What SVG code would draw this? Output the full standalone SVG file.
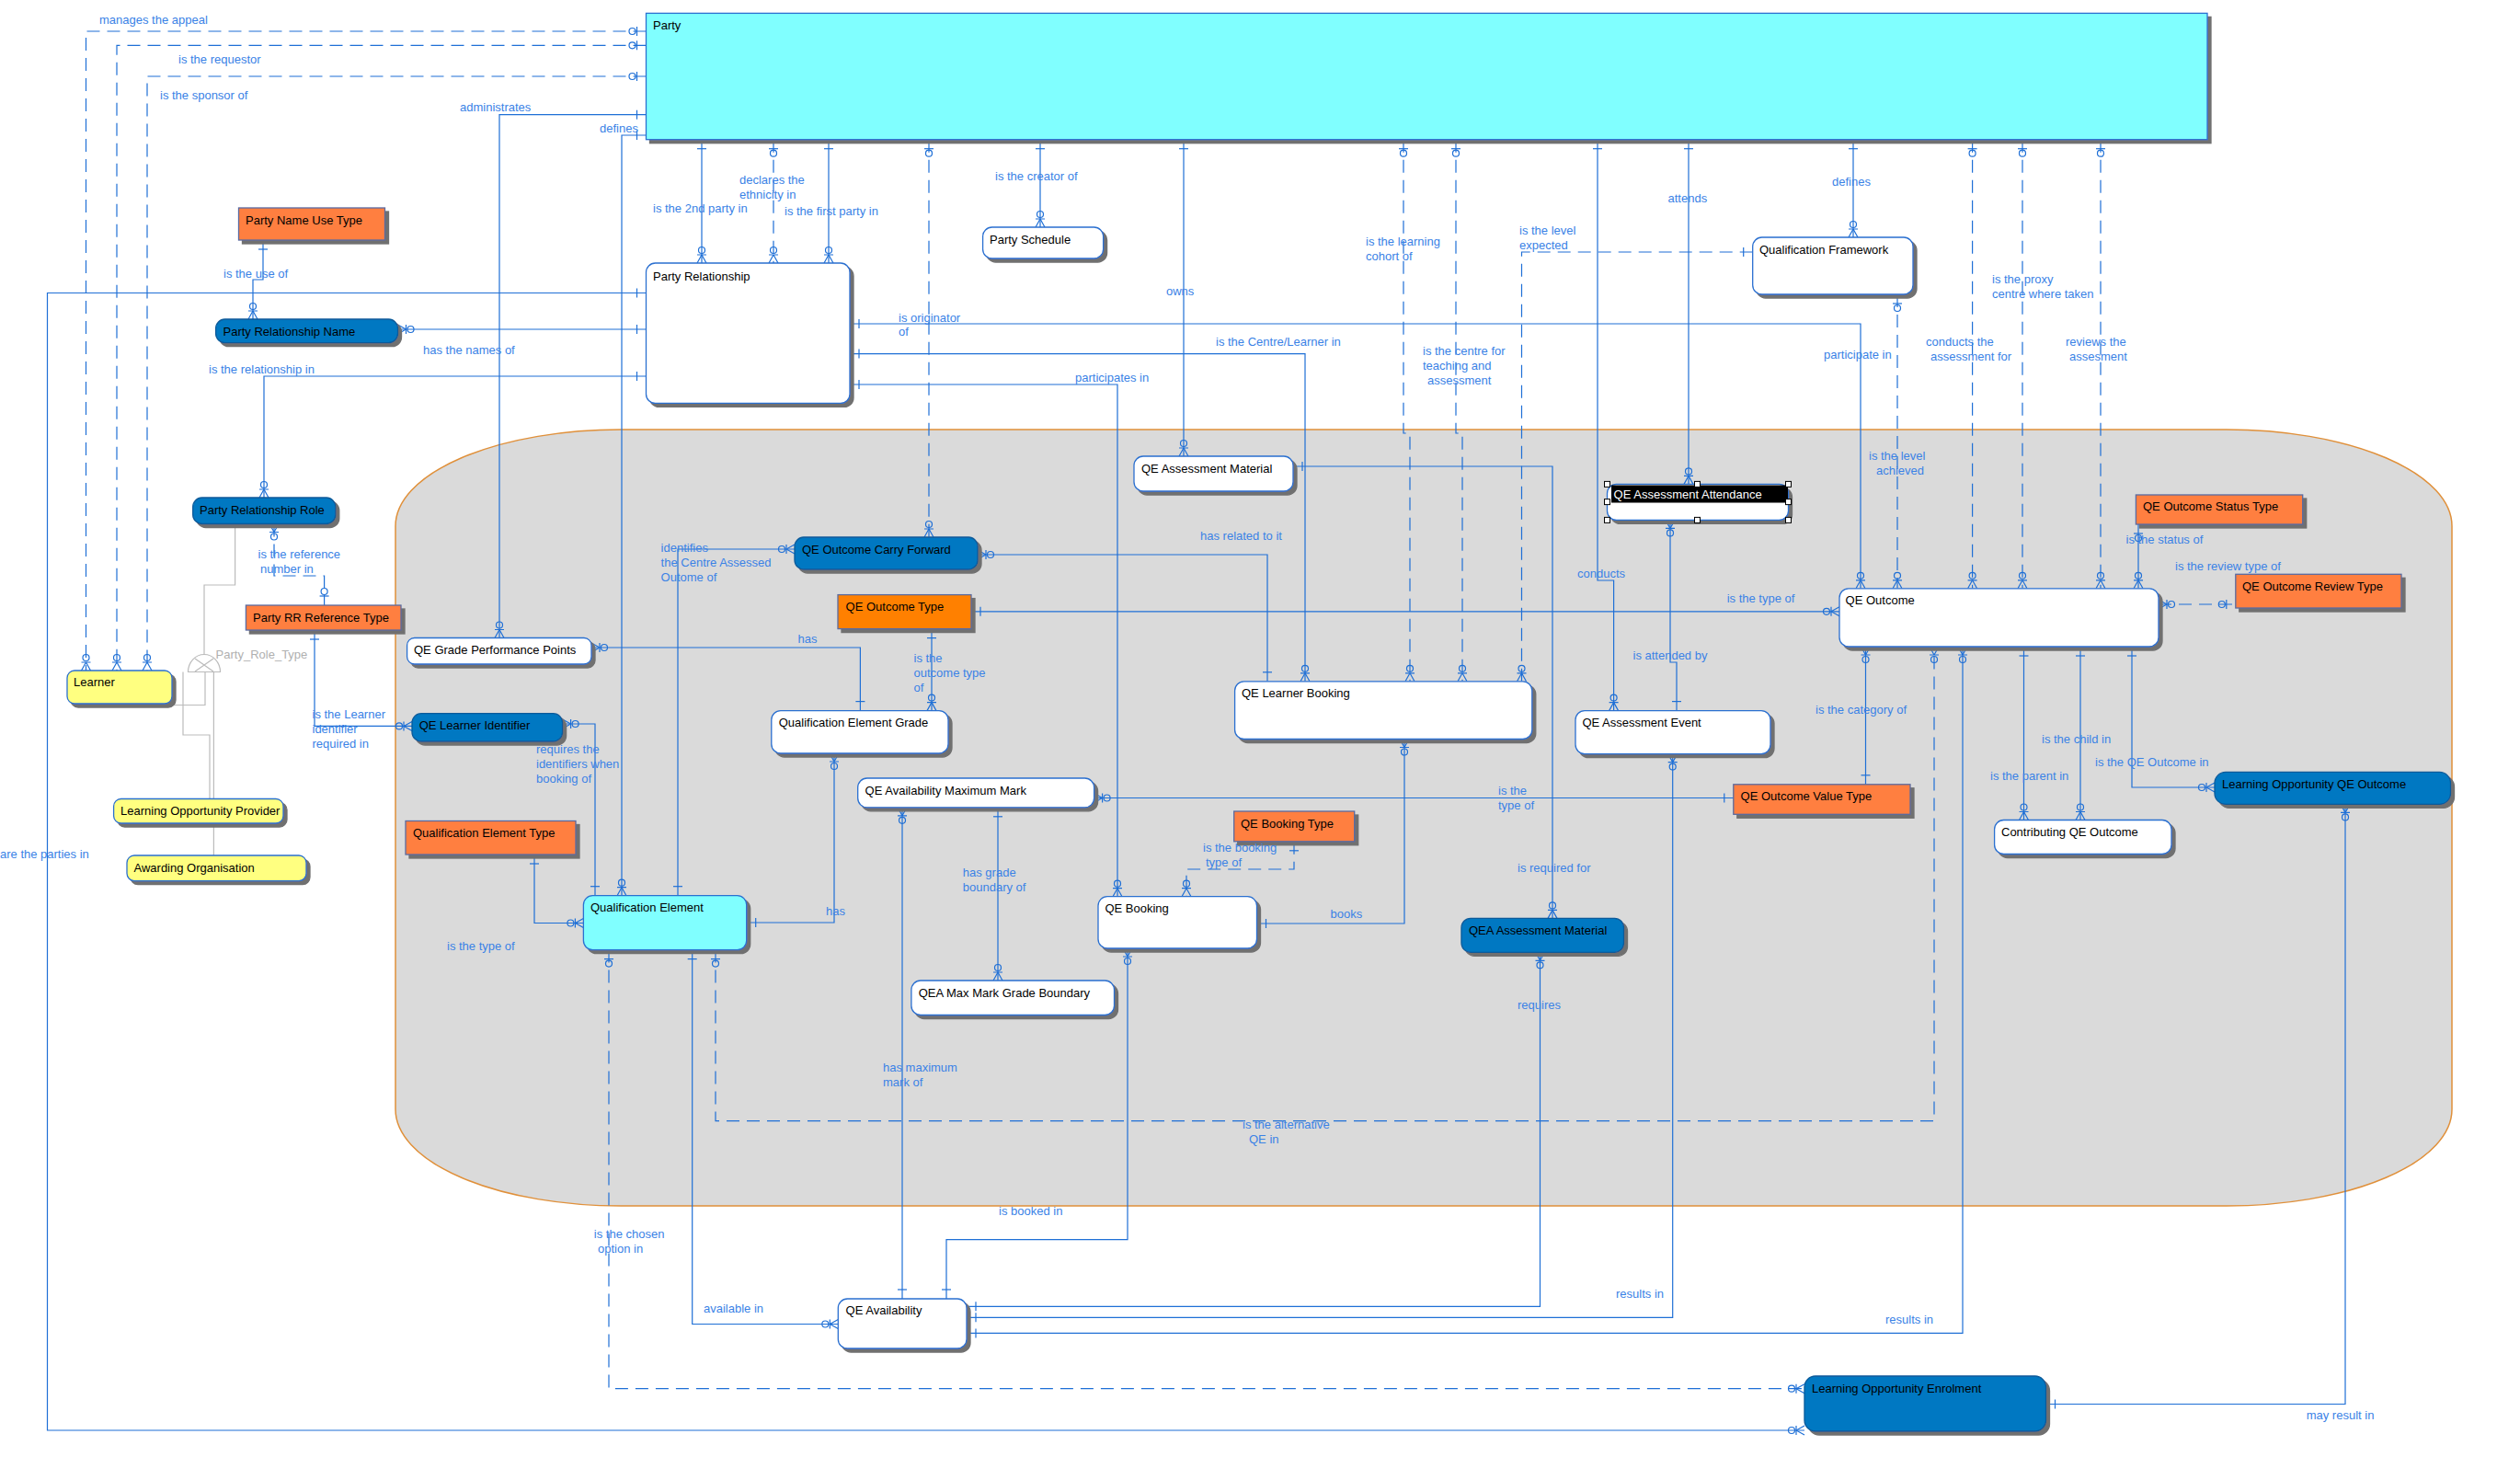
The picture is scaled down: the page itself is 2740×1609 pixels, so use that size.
<svg xmlns="http://www.w3.org/2000/svg" xmlns:xlink="http://www.w3.org/1999/xlink" width="2740" height="1609" viewBox="0 0 2740 1609">
<style>
  .ent { stroke: #2a6fd0; stroke-width: 1.3; filter: url(#sh); }
  .w { fill: #ffffff; }
  .cy { fill: #80ffff; }
  .yl { fill: #ffff80; }
  .db { fill: #0078c2; stroke: #0a5a9a; }
  .or { fill: #ff7f40; stroke: #5a6aa0; }
  .or2 { fill: #ff8000; stroke: #5a6aa0; }
  .t { font-family: "Liberation Sans", Arial, sans-serif; font-size: 13px; fill: #000000; }
  .lb { font-family: "Liberation Sans", Arial, sans-serif; font-size: 13px; fill: #3a82e6; }
  .ln { fill: none; stroke: #1e6fd6; stroke-width: 1.2; }
  .dl { fill: none; stroke: #1e6fd6; stroke-width: 1.2; stroke-dasharray: 14 8; }
  .mk { fill: none; stroke: #1e6fd6; stroke-width: 1.2; }
  .sub { fill: none; stroke: #bbbbbb; stroke-width: 1.2; }
  .hd { fill: #ffffff; stroke: #000000; stroke-width: 1; }
</style>
<defs>
  <filter id="sh" x="-5%" y="-10%" width="115%" height="140%">
    <feOffset in="SourceAlpha" dx="4" dy="4" result="off"/>
    <feFlood flood-color="#707070"/>
    <feComposite in2="off" operator="in" result="shadow"/>
    <feMerge><feMergeNode in="shadow"/><feMergeNode in="SourceGraphic"/></feMerge>
  </filter>
  <!-- crow's foot end symbols: entity edge at origin, line arriving from -y -->
  <g id="mz" class="mk"><circle cx="0" cy="-14" r="3.5"/><path d="M-5 -9H5M0 -9L-5 0M0 -9L5 0"/></g>
  <g id="zo" class="mk"><circle cx="0" cy="-15" r="3.5"/><path d="M-5 -10H5"/></g>
  <g id="one" class="mk"><path d="M-5 -10H5"/></g>
</defs>

<rect width="2740" height="1609" fill="#ffffff"/>

<!-- subject area -->
<rect id="area" x="430" y="467" width="2236" height="844" rx="245" ry="105" fill="#dadada" stroke="#e0903a" stroke-width="1.5"/>

<g id="connectors">
  <!-- Party to Learner -->
  <path class="dl" d="M702.5 34H93.5V729"/>
  <path class="dl" d="M702.5 49.3H127V729"/>
  <path class="dl" d="M702.5 83H160V729"/>
  <path class="ln" d="M702.5 124.7H543V693.5"/>
  <path class="ln" d="M702.5 147H676V973.7"/>
  <!-- Party bottom -->
  <path class="ln" d="M763 151.7V286"/>
  <path class="dl" d="M841 151.7V286"/>
  <path class="ln" d="M901 151.7V286"/>
  <path class="dl" d="M1010 151.7V584"/>
  <path class="ln" d="M1131 151.7V247"/>
  <path class="ln" d="M1287 151.7V496"/>
  <path class="dl" d="M1526 151.7V471H1533V740.8"/>
  <path class="dl" d="M1583 151.7V471H1590V740.8"/>
  <path class="ln" d="M1737 151.7V631H1754.6V772.6"/>
  <path class="ln" d="M1836 151.7V526.4"/>
  <path class="ln" d="M2015 151.7V258"/>
  <path class="dl" d="M2144.6 151.7V639.8"/>
  <path class="dl" d="M2199 151.7V639.8"/>
  <path class="dl" d="M2284 151.7V639.8"/>
  <!-- Qualification Framework -->
  <path class="dl" d="M1905.7 274H1654.5V740.8"/>
  <path class="dl" d="M2063 320V639.8"/>
  <!-- Party Relationship -->
  <path class="ln" d="M702.5 318.5H51.5V1555H1962"/>
  <path class="ln" d="M702.5 358H432.5"/>
  <path class="ln" d="M702.5 409H287V541"/>
  <path class="ln" d="M924 352H2023V639.8"/>
  <path class="ln" d="M924 384.6H1419V740.8"/>
  <path class="ln" d="M924 418H1215V974.7"/>
  <!-- party name / role -->
  <path class="ln" d="M286 261V304H275V347"/>
  <path class="dl" d="M298 569.5V626H352.6V658"/>
  <path class="ln" d="M342 685V789.4H448"/>
  <path class="ln" d="M611.6 787H647V973.7"/>
  <path class="ln" d="M581 929V1003.5H634.4"/>
  <!-- Qualification Element -->
  <path class="ln" d="M737 973.7V597H864"/>
  <path class="ln" d="M907 819V1003H811.7"/>
  <path class="dl" d="M778 1032.6V1218.6H2103V703"/>
  <path class="dl" d="M662 1032.6V1509.7H1962"/>
  <path class="ln" d="M752.7 1032.6V1439.5H911.3"/>
  <path class="ln" d="M643 704H935.4V772.6"/>
  <path class="ln" d="M1013 683.6V772.6"/>
  <path class="ln" d="M1056 664.8H2000"/>
  <path class="ln" d="M1063 603H1378V740.8"/>
  <!-- availability / booking -->
  <path class="ln" d="M1189.6 867.5H1884.8"/>
  <path class="ln" d="M981 877.8V1412"/>
  <path class="ln" d="M1085 877.8V1066"/>
  <path class="dl" d="M1407 914.8V945H1290V974.7"/>
  <path class="ln" d="M1226 1031V1347.7H1029V1412"/>
  <path class="ln" d="M1527 803.5V1004H1366.5"/>
  <path class="ln" d="M1406 507H1688V998.4"/>
  <path class="ln" d="M1816 565.4V720H1823V772.6"/>
  <path class="ln" d="M1674.5 1035.3V1420.3H1051"/>
  <path class="ln" d="M1818.7 819.6V1432.3H1051"/>
  <path class="ln" d="M2134 703V1449.4H1051"/>
  <!-- QE Outcome -->
  <path class="ln" d="M2028.5 703V852.8"/>
  <path class="ln" d="M2200.5 703V891.5"/>
  <path class="ln" d="M2262 703V891.5"/>
  <path class="ln" d="M2318 703V856H2408"/>
  <path class="ln" d="M2325 570V639.8"/>
  <path class="dl" d="M2347 657H2430.8"/>
  <path class="ln" d="M2550 874.4V1526.5H2224.5"/>

  <!-- subtype -->
  <path class="sub" d="M255.6 569.5V636H222V712"/>
  <path class="sub" d="M204.5 730.5A17.5 19 0 0 1 239.5 730.5Z"/>
  <path class="sub" d="M212 716L232 730M212 730L232 716"/>
  <path class="sub" d="M223 730.5V766.5H187"/>
  <path class="sub" d="M199 730.5V799H228V868.5"/>
  <path class="sub" d="M232.4 730.5V930"/>

  <!-- end symbols -->
  <use href="#zo" transform="translate(702.5 34) rotate(-90)"/>
  <use href="#mz" transform="translate(93.5 729)"/>
  <use href="#zo" transform="translate(702.5 49.3) rotate(-90)"/>
  <use href="#mz" transform="translate(127 729)"/>
  <use href="#zo" transform="translate(702.5 83) rotate(-90)"/>
  <use href="#mz" transform="translate(160 729)"/>
  <use href="#one" transform="translate(702.5 124.7) rotate(-90)"/>
  <use href="#mz" transform="translate(543 693.5)"/>
  <use href="#one" transform="translate(702.5 147) rotate(-90)"/>
  <use href="#mz" transform="translate(676 973.7)"/>
  <use href="#one" transform="translate(763 151.7) rotate(180)"/>
  <use href="#mz" transform="translate(763 286)"/>
  <use href="#zo" transform="translate(841 151.7) rotate(180)"/>
  <use href="#mz" transform="translate(841 286)"/>
  <use href="#one" transform="translate(901 151.7) rotate(180)"/>
  <use href="#mz" transform="translate(901 286)"/>
  <use href="#zo" transform="translate(1010 151.7) rotate(180)"/>
  <use href="#mz" transform="translate(1010 584)"/>
  <use href="#one" transform="translate(1131 151.7) rotate(180)"/>
  <use href="#mz" transform="translate(1131 247)"/>
  <use href="#one" transform="translate(1287 151.7) rotate(180)"/>
  <use href="#mz" transform="translate(1287 496)"/>
  <use href="#zo" transform="translate(1526 151.7) rotate(180)"/>
  <use href="#mz" transform="translate(1533 740.8)"/>
  <use href="#zo" transform="translate(1583 151.7) rotate(180)"/>
  <use href="#mz" transform="translate(1590 740.8)"/>
  <use href="#one" transform="translate(1737 151.7) rotate(180)"/>
  <use href="#mz" transform="translate(1754.6 772.6)"/>
  <use href="#one" transform="translate(1836 151.7) rotate(180)"/>
  <use href="#mz" transform="translate(1836 526.4)"/>
  <use href="#one" transform="translate(2015 151.7) rotate(180)"/>
  <use href="#mz" transform="translate(2015 258)"/>
  <use href="#zo" transform="translate(2144.6 151.7) rotate(180)"/>
  <use href="#mz" transform="translate(2144.6 639.8)"/>
  <use href="#zo" transform="translate(2199 151.7) rotate(180)"/>
  <use href="#mz" transform="translate(2199 639.8)"/>
  <use href="#zo" transform="translate(2284 151.7) rotate(180)"/>
  <use href="#mz" transform="translate(2284 639.8)"/>
  <use href="#one" transform="translate(1905.7 274) rotate(-90)"/>
  <use href="#mz" transform="translate(1654.5 740.8)"/>
  <use href="#zo" transform="translate(2063 320) rotate(180)"/>
  <use href="#mz" transform="translate(2063 639.8)"/>
  <use href="#one" transform="translate(702.5 318.5) rotate(-90)"/>
  <use href="#mz" transform="translate(1962 1555) rotate(-90)"/>
  <use href="#one" transform="translate(702.5 358) rotate(-90)"/>
  <use href="#mz" transform="translate(432.5 358) rotate(90)"/>
  <use href="#one" transform="translate(702.5 409) rotate(-90)"/>
  <use href="#mz" transform="translate(287 541)"/>
  <use href="#one" transform="translate(924 352) rotate(90)"/>
  <use href="#mz" transform="translate(2023 639.8)"/>
  <use href="#one" transform="translate(924 384.6) rotate(90)"/>
  <use href="#mz" transform="translate(1419 740.8)"/>
  <use href="#one" transform="translate(924 418) rotate(90)"/>
  <use href="#mz" transform="translate(1215 974.7)"/>
  <use href="#one" transform="translate(286 261) rotate(180)"/>
  <use href="#mz" transform="translate(275 347)"/>
  <use href="#mz" transform="translate(298 569.5) rotate(180)"/>
  <use href="#zo" transform="translate(352.6 658)"/>
  <use href="#one" transform="translate(342 685) rotate(180)"/>
  <use href="#mz" transform="translate(448 789.4) rotate(-90)"/>
  <use href="#mz" transform="translate(611.6 787) rotate(90)"/>
  <use href="#one" transform="translate(647 973.7)"/>
  <use href="#one" transform="translate(581 929) rotate(180)"/>
  <use href="#mz" transform="translate(634.4 1003.5) rotate(-90)"/>
  <use href="#one" transform="translate(737 973.7)"/>
  <use href="#mz" transform="translate(864 597) rotate(-90)"/>
  <use href="#mz" transform="translate(907 819) rotate(180)"/>
  <use href="#one" transform="translate(811.7 1003) rotate(90)"/>
  <use href="#zo" transform="translate(778 1032.6) rotate(180)"/>
  <use href="#mz" transform="translate(2103 703) rotate(180)"/>
  <use href="#zo" transform="translate(662 1032.6) rotate(180)"/>
  <use href="#mz" transform="translate(1962 1509.7) rotate(-90)"/>
  <use href="#one" transform="translate(752.7 1032.6) rotate(180)"/>
  <use href="#mz" transform="translate(911.3 1439.5) rotate(-90)"/>
  <use href="#mz" transform="translate(643 704) rotate(90)"/>
  <use href="#one" transform="translate(935.4 772.6)"/>
  <use href="#one" transform="translate(1013 683.6) rotate(180)"/>
  <use href="#mz" transform="translate(1013 772.6)"/>
  <use href="#one" transform="translate(1056 664.8) rotate(90)"/>
  <use href="#mz" transform="translate(2000 664.8) rotate(-90)"/>
  <use href="#mz" transform="translate(1063 603) rotate(90)"/>
  <use href="#one" transform="translate(1378 740.8)"/>
  <use href="#mz" transform="translate(1189.6 867.5) rotate(90)"/>
  <use href="#one" transform="translate(1884.8 867.5) rotate(-90)"/>
  <use href="#mz" transform="translate(981 877.8) rotate(180)"/>
  <use href="#one" transform="translate(981 1412)"/>
  <use href="#one" transform="translate(1085 877.8) rotate(180)"/>
  <use href="#mz" transform="translate(1085 1066)"/>
  <use href="#one" transform="translate(1407 914.8) rotate(180)"/>
  <use href="#mz" transform="translate(1290 974.7)"/>
  <use href="#mz" transform="translate(1226 1031) rotate(180)"/>
  <use href="#one" transform="translate(1029 1412)"/>
  <use href="#mz" transform="translate(1527 803.5) rotate(180)"/>
  <use href="#one" transform="translate(1366.5 1004) rotate(90)"/>
  <use href="#one" transform="translate(1406 507) rotate(90)"/>
  <use href="#mz" transform="translate(1688 998.4)"/>
  <use href="#mz" transform="translate(1816 565.4) rotate(180)"/>
  <use href="#one" transform="translate(1823 772.6)"/>
  <use href="#mz" transform="translate(1674.5 1035.3) rotate(180)"/>
  <use href="#one" transform="translate(1051 1420.3) rotate(90)"/>
  <use href="#mz" transform="translate(1818.7 819.6) rotate(180)"/>
  <use href="#one" transform="translate(1051 1432.3) rotate(90)"/>
  <use href="#mz" transform="translate(2134 703) rotate(180)"/>
  <use href="#one" transform="translate(1051 1449.4) rotate(90)"/>
  <use href="#mz" transform="translate(2028.5 703) rotate(180)"/>
  <use href="#one" transform="translate(2028.5 852.8)"/>
  <use href="#one" transform="translate(2200.5 703) rotate(180)"/>
  <use href="#mz" transform="translate(2200.5 891.5)"/>
  <use href="#one" transform="translate(2262 703) rotate(180)"/>
  <use href="#mz" transform="translate(2262 891.5)"/>
  <use href="#one" transform="translate(2318 703) rotate(180)"/>
  <use href="#mz" transform="translate(2408 856) rotate(-90)"/>
  <use href="#zo" transform="translate(2325 570) rotate(180)"/>
  <use href="#mz" transform="translate(2325 639.8)"/>
  <use href="#mz" transform="translate(2347 657) rotate(90)"/>
  <use href="#zo" transform="translate(2430.8 657) rotate(-90)"/>
  <use href="#mz" transform="translate(2550 874.4) rotate(180)"/>
  <use href="#one" transform="translate(2224.5 1526.5) rotate(90)"/>
</g>

<g id="nodes">
  <g id="party"><rect class="ent cy" x="702.5" y="14.4" width="1697.5" height="137.3"/><text class="t" x="710" y="31.9">Party</text></g>
  <g id="party-relationship"><rect class="ent w" x="702.5" y="286" width="221.5" height="152.4" rx="10"/><text class="t" x="710" y="304.5">Party Relationship</text></g>
  <g id="party-schedule"><rect class="ent w" x="1068.6" y="247" width="131" height="34" rx="10"/><text class="t" x="1076" y="264.5">Party Schedule</text></g>
  <g id="qualification-framework"><rect class="ent w" x="1905.7" y="258" width="174.3" height="62" rx="10"/><text class="t" x="1913" y="275.5">Qualification Framework</text></g>
  <g id="qe-assessment-material"><rect class="ent w" x="1233" y="496" width="173" height="38" rx="10"/><text class="t" x="1241" y="514">QE Assessment Material</text></g>
  <g id="qe-assessment-attendance">
    <rect class="ent w" x="1747.5" y="526.4" width="197" height="39" rx="10"/>
    <rect x="1752" y="527.5" width="192" height="19" fill="#000000"/>
    <text class="t" x="1754.6" y="541.5" fill="#ffffff" style="fill:#ffffff">QE Assessment Attendance</text>
    <rect class="hd" x="1744.5" y="523.4" width="6" height="6"/>
    <rect class="hd" x="1842.5" y="523.4" width="6" height="6"/>
    <rect class="hd" x="1941.5" y="523.4" width="6" height="6"/>
    <rect class="hd" x="1744.5" y="542.6" width="6" height="6"/>
    <rect class="hd" x="1941.5" y="542.6" width="6" height="6"/>
    <rect class="hd" x="1744.5" y="562.4" width="6" height="6"/>
    <rect class="hd" x="1842.5" y="562.4" width="6" height="6"/>
    <rect class="hd" x="1941.5" y="562.4" width="6" height="6"/>
  </g>
  <g id="party-name-use-type"><rect class="ent or" x="259.5" y="226" width="159" height="35"/><text class="t" x="267" y="244">Party Name Use Type</text></g>
  <g id="party-relationship-name"><rect class="ent db" x="234.6" y="347" width="197.9" height="25.6" rx="10"/><text class="t" x="242.5" y="365">Party Relationship Name</text></g>
  <g id="party-relationship-role"><rect class="ent db" x="209.7" y="541" width="155.1" height="28.5" rx="10"/><text class="t" x="217" y="558.5">Party Relationship Role</text></g>
  <g id="party-rr-reference-type"><rect class="ent or" x="267.4" y="658" width="168.6" height="27"/><text class="t" x="275" y="676">Party RR Reference Type</text></g>
  <g id="learner"><rect class="ent yl" x="73" y="729" width="114" height="36" rx="8"/><text class="t" x="80" y="746">Learner</text></g>
  <g id="learning-opportunity-provider"><rect class="ent yl" x="123.6" y="868.5" width="184.4" height="26.5" rx="8"/><text class="t" x="131" y="885.5">Learning Opportunity Provider</text></g>
  <g id="awarding-organisation"><rect class="ent yl" x="138" y="930" width="195" height="27.6" rx="8"/><text class="t" x="145.5" y="947.5">Awarding Organisation</text></g>
  <text class="lb" x="234.6" y="715.5" style="fill:#b0b0b0">Party_Role_Type</text>
  <g id="qe-grade-performance-points"><rect class="ent w" x="442.6" y="693.5" width="200.4" height="28.5" rx="8"/><text class="t" x="450" y="710.5">QE Grade Performance Points</text></g>
  <g id="qe-learner-identifier"><rect class="ent db" x="448" y="775.7" width="163.6" height="30.3" rx="10"/><text class="t" x="455.7" y="792.5">QE Learner Identifier</text></g>
  <g id="qualification-element-type"><rect class="ent or" x="441" y="892.5" width="185" height="36.5"/><text class="t" x="449" y="910">Qualification Element Type</text></g>
  <g id="qualification-element"><rect class="ent cy" x="634.4" y="973.7" width="177.3" height="58.9" rx="10"/><text class="t" x="642" y="990.5">Qualification Element</text></g>
  <g id="qe-outcome-carry-forward"><rect class="ent db" x="864" y="584" width="199" height="35" rx="10"/><text class="t" x="872" y="601.5">QE Outcome Carry Forward</text></g>
  <g id="qe-outcome-type"><rect class="ent or2" x="911" y="646.6" width="145" height="37"/><text class="t" x="919.6" y="664">QE Outcome Type</text></g>
  <g id="qualification-element-grade"><rect class="ent w" x="838.8" y="772.6" width="192.2" height="46.4" rx="10"/><text class="t" x="846.7" y="790">Qualification Element Grade</text></g>
  <g id="qe-availability-maximum-mark"><rect class="ent w" x="932.7" y="846" width="256.9" height="31.8" rx="10"/><text class="t" x="940.6" y="864">QE Availability Maximum Mark</text></g>
  <g id="qe-booking"><rect class="ent w" x="1194" y="974.7" width="172.5" height="56.3" rx="10"/><text class="t" x="1201.4" y="992">QE Booking</text></g>
  <g id="qe-booking-type"><rect class="ent or" x="1341.7" y="882" width="131" height="32.8"/><text class="t" x="1349" y="899.5">QE Booking Type</text></g>
  <g id="qea-max-mark-grade-boundary"><rect class="ent w" x="990.9" y="1066" width="220.6" height="37.5" rx="10"/><text class="t" x="998.7" y="1084">QEA Max Mark Grade Boundary</text></g>
  <g id="qe-availability"><rect class="ent w" x="911.3" y="1412" width="139.7" height="54" rx="10"/><text class="t" x="919.6" y="1428.5">QE Availability</text></g>
  <g id="qe-learner-booking"><rect class="ent w" x="1342.6" y="740.8" width="323.2" height="62.7" rx="10"/><text class="t" x="1350" y="758">QE Learner Booking</text></g>
  <g id="qe-assessment-event"><rect class="ent w" x="1713" y="772.6" width="212" height="47" rx="10"/><text class="t" x="1720.4" y="790">QE Assessment Event</text></g>
  <g id="qe-outcome-value-type"><rect class="ent or" x="1884.8" y="852.8" width="192.2" height="32.5"/><text class="t" x="1892.6" y="869.5">QE Outcome Value Type</text></g>
  <g id="qea-assessment-material"><rect class="ent db" x="1589" y="998.4" width="176.5" height="36.9" rx="10"/><text class="t" x="1597" y="1016">QEA Assessment Material</text></g>
  <g id="qe-outcome"><rect class="ent w" x="2000" y="639.8" width="347" height="63.2" rx="10"/><text class="t" x="2006.6" y="656.5">QE Outcome</text></g>
  <g id="qe-outcome-review-type"><rect class="ent or" x="2430.8" y="624.3" width="180.2" height="36.7"/><text class="t" x="2438" y="642">QE Outcome Review Type</text></g>
  <g id="qe-outcome-status-type"><rect class="ent or" x="2322.4" y="538" width="181.3" height="32"/><text class="t" x="2330" y="554.5">QE Outcome Status Type</text></g>
  <g id="contributing-qe-outcome"><rect class="ent w" x="2168.6" y="891.5" width="192.4" height="37" rx="10"/><text class="t" x="2176" y="909">Contributing QE Outcome</text></g>
  <g id="learning-opportunity-qe-outcome"><rect class="ent db" x="2408" y="839.4" width="256.5" height="35" rx="12"/><text class="t" x="2416" y="856.5">Learning Opportunity QE Outcome</text></g>
  <g id="learning-opportunity-enrolment"><rect class="ent db" x="1962" y="1496" width="262.5" height="60" rx="12"/><text class="t" x="1970" y="1514">Learning Opportunity Enrolment</text></g>
</g>

<g id="labels" class="lb">
  <text class="lb" x="108" y="26">manages the appeal</text>
  <text class="lb" x="194" y="68.5">is the requestor</text>
  <text class="lb" x="174" y="107.5">is the sponsor of</text>
  <text class="lb" x="500" y="120.5">administrates</text>
  <text class="lb" x="652" y="143.5">defines</text>
  <text class="lb" x="243" y="301.5">is the use of</text>
  <text class="lb" x="460" y="384.5">has the names of</text>
  <text class="lb" x="227" y="405.5">is the relationship in</text>
  <text class="lb" x="710" y="231">is the 2nd party in</text>
  <text class="lb" x="804" y="200">declares the<tspan x="804" y="216">ethnicity in</tspan></text>
  <text class="lb" x="853" y="234">is the first party in</text>
  <text class="lb" x="1082" y="196">is the creator of</text>
  <text class="lb" x="977" y="349.5">is originator<tspan x="977" y="365">of</tspan></text>
  <text class="lb" x="1322" y="376">is the Centre/Learner in</text>
  <text class="lb" x="1169" y="415">participates in</text>
  <text class="lb" x="1268" y="321">owns</text>
  <text class="lb" x="1485" y="267">is the learning<tspan x="1485" y="283">cohort of</tspan></text>
  <text class="lb" x="1547" y="385.5">is the centre for<tspan x="1547" y="401.5">teaching and</tspan><tspan x="1552" y="417.5">assessment</tspan></text>
  <text class="lb" x="1652" y="254.5">is the level<tspan x="1652" y="271">expected</tspan></text>
  <text class="lb" x="1813.5" y="220">attends</text>
  <text class="lb" x="1992" y="202">defines</text>
  <text class="lb" x="1983" y="390">participate in</text>
  <text class="lb" x="2166" y="308">is the proxy<tspan x="2166" y="323.5">centre where taken</tspan></text>
  <text class="lb" x="2094" y="376">conducts the<tspan x="2099" y="392">assessment for</tspan></text>
  <text class="lb" x="2246" y="376">reviews the<tspan x="2250" y="392">assesment</tspan></text>
  <text class="lb" x="2032" y="500">is the level<tspan x="2040" y="516">achieved</tspan></text>
  <text class="lb" x="280.5" y="606.5">is the reference<tspan x="283" y="623">number in</tspan></text>
  <text class="lb" x="339.5" y="781">is the Learner<tspan x="339.5" y="796.5">identifier</tspan><tspan x="339.5" y="812.5">required in</tspan></text>
  <text class="lb" x="583" y="819">requires the<tspan x="583" y="835">identifiers when</tspan><tspan x="583" y="850.5">booking of</tspan></text>
  <text class="lb" x="486" y="1033">is the type of</text>
  <text class="lb" x="0" y="933">are the parties in</text>
  <text class="lb" x="718.6" y="600">identifies<tspan x="718.6" y="615.5">the Centre Assessed</tspan><tspan x="718.6" y="632">Outome of</tspan></text>
  <text class="lb" x="867.6" y="699">has</text>
  <text class="lb" x="993.5" y="720">is the<tspan x="993.5" y="736">outcome type</tspan><tspan x="993.5" y="752">of</tspan></text>
  <text class="lb" x="898" y="995.3">has</text>
  <text class="lb" x="1305" y="587">has related to it</text>
  <text class="lb" x="1046.8" y="953">has grade<tspan x="1046.8" y="969">boundary of</tspan></text>
  <text class="lb" x="1308" y="926">is the booking<tspan x="1311" y="942">type of</tspan></text>
  <text class="lb" x="1877.7" y="655">is the type of</text>
  <text class="lb" x="1715" y="628">conducts</text>
  <text class="lb" x="1775.5" y="717">is attended by</text>
  <text class="lb" x="1974" y="775.5">is the category of</text>
  <text class="lb" x="1629" y="864">is the<tspan x="1629" y="880">type of</tspan></text>
  <text class="lb" x="1446.5" y="998">books</text>
  <text class="lb" x="1650" y="947.5">is required for</text>
  <text class="lb" x="2311.5" y="591">is the status of</text>
  <text class="lb" x="2365" y="620">is the review type of</text>
  <text class="lb" x="2220" y="808">is the child in</text>
  <text class="lb" x="2278" y="832.5">is the QE Outcome in</text>
  <text class="lb" x="2164" y="848">is the parent in</text>
  <text class="lb" x="2507.7" y="1543">may result in</text>
  <text class="lb" x="960" y="1165">has maximum<tspan x="960" y="1181">mark of</tspan></text>
  <text class="lb" x="1086" y="1321">is booked in</text>
  <text class="lb" x="765" y="1427">available in</text>
  <text class="lb" x="645.8" y="1346">is the chosen<tspan x="650" y="1361.5">option in</tspan></text>
  <text class="lb" x="1351" y="1227">is the alternative<tspan x="1358" y="1243">QE in</tspan></text>
  <text class="lb" x="1650" y="1097">requires</text>
  <text class="lb" x="1757" y="1411">results in</text>
  <text class="lb" x="2050" y="1438.5">results in</text>
</g>
</svg>
